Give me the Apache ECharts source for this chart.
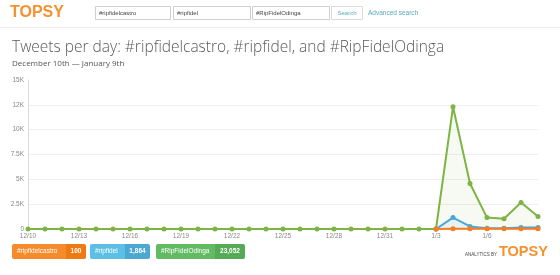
<!DOCTYPE html>
<html>
<head>
<meta charset="utf-8">
<script src="https://cdn.jsdelivr.net/npm/echarts@6/dist/echarts.min.js"></script>
<style>
html,body{margin:0;padding:0;background:#fff;}
#c{width:560px;height:275px;}
</style>
</head>
<body>
<div id="c"></div>
<script>
var dates = ["12/10","12/11","12/12","12/13","12/14","12/15","12/16","12/17","12/18","12/19","12/20","12/21","12/22","12/23","12/24","12/25","12/26","12/27","12/28","12/29","12/30","12/31","1/1","1/2","1/3","1/4","1/5","1/6","1/7","1/8","1/9"];
var ripfidelcastro = [null,null,null,null,null,null,null,null,null,null,null,null,null,null,null,null,null,null,null,null,null,null,null,null,0,20,18,15,15,16,16];
var ripfidel = [null,null,null,null,null,null,null,null,null,null,null,null,null,null,null,null,null,null,null,null,null,null,null,null,0,1150,260,70,70,160,150];
var ripFidelOdinga = [0,0,0,0,0,0,0,0,0,0,0,0,0,0,0,0,0,0,0,0,0,0,0,0,0,12300,4580,1150,1030,2660,1260];
var yTickLabels = ["0","2.5K","5K","7.5K","10K","12K","15K"];
var legendItems = [
  {name:"#ripfidelcastro", total:"100"},
  {name:"#ripfidel", total:"1,864"},
  {name:"#RipFidelOdinga", total:"23,052"}
];
var searchTerms = ["#ripfidelcastro","#ripfidel","#RipFidelOdinga"];

var chart = echarts.init(document.getElementById('c'), null, {renderer:'canvas'});
var F = '"Open Sans", "Liberation Sans", sans-serif';

var graphics = [];
graphics.push({type:'text', left:10, top:5, style:{text:'TOPSY', fill:'#f5922f', font:'bold 16px "Liberation Sans", Arial, sans-serif'}});
var boxes = [[95,75],[173,77],[252,77]];
searchTerms.forEach(function(t,i){
  graphics.push({type:'rect', shape:{x:boxes[i][0]+0.5,y:6.5,width:boxes[i][1],height:13}, style:{fill:'#fff', stroke:'#cfcfcf', lineWidth:1}});
  graphics.push({type:'text', x:boxes[i][0]+4, y:13, style:{text:t, fill:'#444', font:'6px "Liberation Sans", Arial, sans-serif', verticalAlign:'middle'}});
});
graphics.push({type:'rect', shape:{x:331.5,y:6.5,width:31,height:13}, style:{fill:'#fff', stroke:'#dcdcdc', lineWidth:1}});
graphics.push({type:'text', x:347, y:13, style:{text:'Search', fill:'#5aa8b8', font:'6px "Liberation Sans", Arial, sans-serif', align:'center', verticalAlign:'middle'}});
graphics.push({type:'text', x:368, y:13, style:{text:'Advanced search', fill:'#5aa8b8', font:'6.5px "Liberation Sans", Arial, sans-serif', verticalAlign:'middle'}});
graphics.push({type:'line', shape:{x1:0,y1:27.5,x2:560,y2:27.5}, style:{stroke:'#ececec', lineWidth:1}});

var btn = [
  {x:12, w:54, nw:20, c1:'#f68b2c', c2:'#f07a12'},
  {x:90, w:35, nw:25, c1:'#5bbfe6', c2:'#4aa8d3'},
  {x:156, w:59, nw:30, c1:'#62bb63', c2:'#55aa57'}
];
legendItems.forEach(function(it,i){
  var b = btn[i];
  graphics.push({type:'rect', shape:{x:b.x,y:244,width:b.w,height:15,r:[2,0,0,2]}, style:{fill:b.c1}});
  graphics.push({type:'rect', shape:{x:b.x+b.w,y:244,width:b.nw,height:15,r:[0,2,2,0]}, style:{fill:b.c2}});
  graphics.push({type:'text', x:b.x+5, y:251.5, style:{text:it.name, fill:'#fff', font:'6.5px "Liberation Sans", Arial, sans-serif', verticalAlign:'middle'}});
  graphics.push({type:'text', x:b.x+b.w+b.nw/2, y:251.5, style:{text:it.total, fill:'#fff', font:'bold 6.5px "Liberation Sans", Arial, sans-serif', align:'center', verticalAlign:'middle'}});
});
graphics.push({type:'text', x:497, y:255, style:{text:'ANALYTICS BY', fill:'#444', font:'4.5px "Liberation Sans", Arial, sans-serif', align:'right', verticalAlign:'middle'}});
graphics.push({type:'text', x:499, y:252, style:{text:'TOPSY', fill:'#f5922f', font:'bold 14.5px "Liberation Sans", Arial, sans-serif', verticalAlign:'middle'}});

chart.setOption({
  animation:false,
  title:{
    text:'Tweets per day: #ripfidelcastro, #ripfidel, and #RipFidelOdinga',
    subtext:'December 10th \u2014 January 9th',
    left:7, top:35,
    itemGap:4,
    textStyle:{fontFamily:F, fontWeight:300, fontSize:15.5, color:'#5a5a5a'},
    subtextStyle:{fontFamily:F, fontSize:8, color:'#555'}
  },
  graphic:graphics,
  grid:{left:28, right:22, top:80, bottom:46, containLabel:false},
  xAxis:{
    type:'category', data:dates, boundaryGap:false,
    axisLine:{show:false}, axisTick:{show:false},
    axisLabel:{fontSize:6.5, color:'#888', fontFamily:'"Liberation Sans", Arial, sans-serif', margin:4,
      interval:function(i){ return i%3===0 && i<30; }}
  },
  yAxis:{
    type:'value', min:0, max:15000, interval:2500,
    axisLine:{show:true, lineStyle:{color:'#dcdcdc'}}, axisTick:{show:false},
    splitLine:{showMaxLine:false, lineStyle:{color:'#efefef'}},
    axisLabel:{fontSize:6.5, color:'#888', fontFamily:'"Liberation Sans", Arial, sans-serif', margin:4,
      formatter:function(v){ return yTickLabels[Math.round(v/2500)]; }}
  },
  series:[
    {name:'#ripfidel', type:'line', data:ripfidel, symbol:'circle', symbolSize:5, z:3,
      lineStyle:{color:'#4da6d8', width:2}, itemStyle:{color:'#4da6d8'},
      areaStyle:{color:'rgba(77,166,216,0.12)'}},
    {name:'#ripfidelcastro', type:'line', data:ripfidelcastro, symbol:'circle', symbolSize:5, z:4,
      lineStyle:{color:'#f47c22', width:2}, itemStyle:{color:'#f47c22'}},
    {name:'#RipFidelOdinga', type:'line', data:ripFidelOdinga, symbol:'circle', symbolSize:5, z:2,
      lineStyle:{color:'#7db443', width:2}, itemStyle:{color:'#7db443'},
      areaStyle:{color:'rgba(125,180,67,0.10)'}}
  ]
});
</script>
</body>
</html>
